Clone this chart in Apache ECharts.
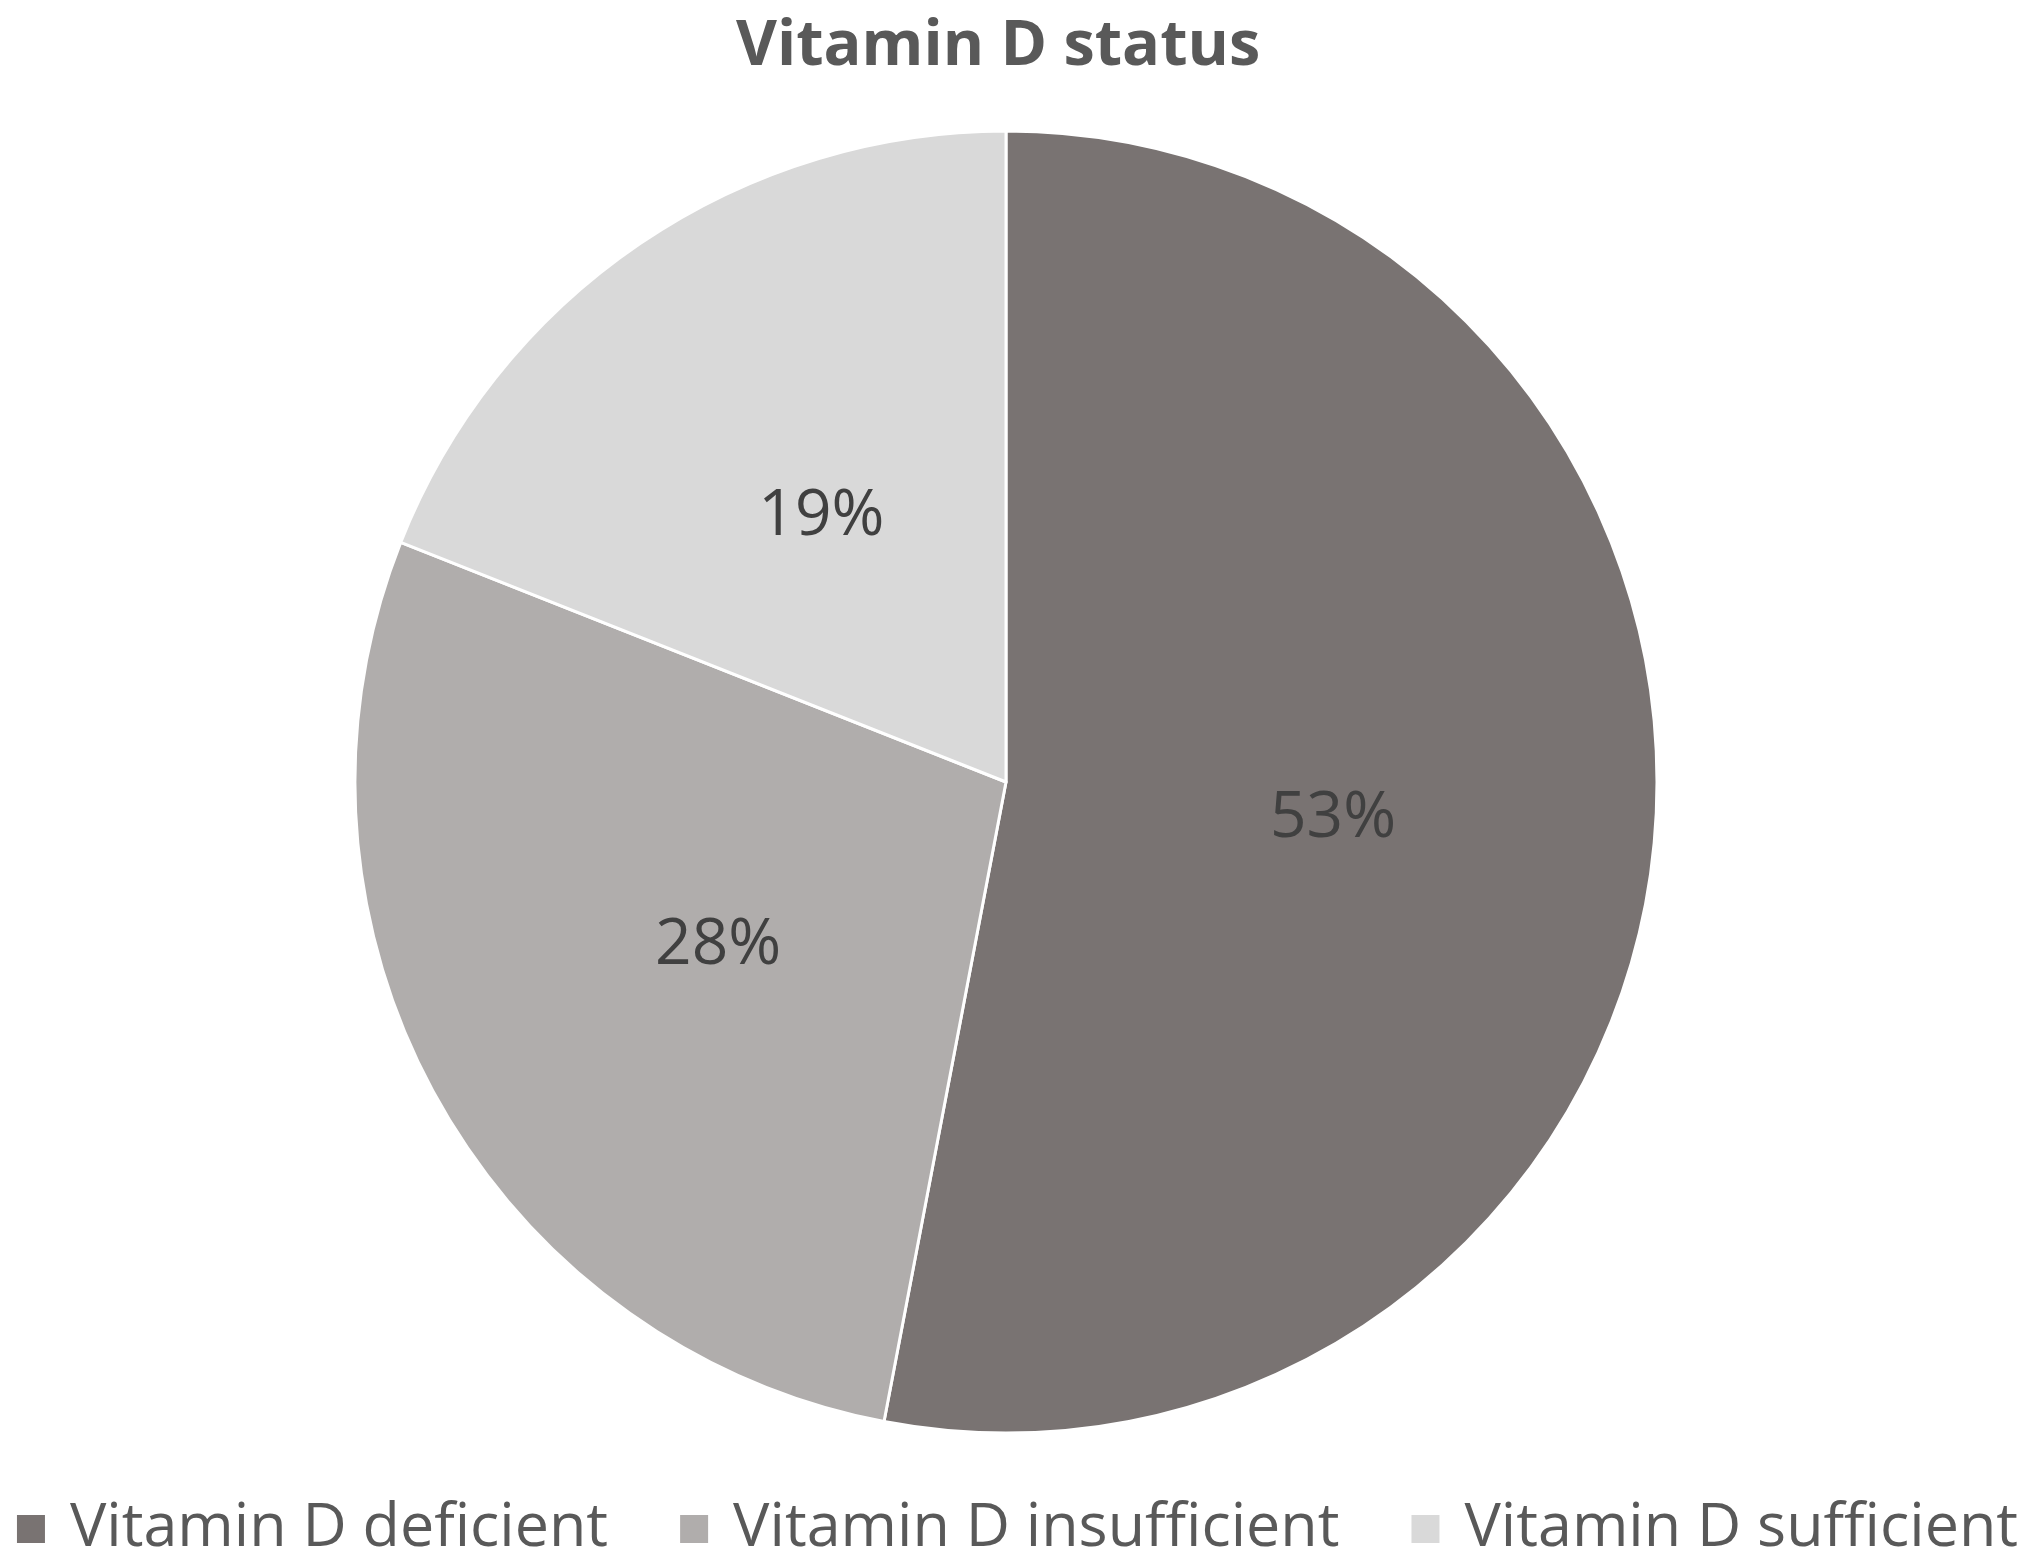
<!DOCTYPE html>
<html>
<head>
<meta charset="utf-8">
<script src="https://cdn.jsdelivr.net/npm/echarts@6/dist/echarts.min.js"></script>
<style>
html,body{margin:0;padding:0;background:#fff;}
#chart{width:2033px;height:1562px;}
</style>
</head>
<body>
<div id="chart"></div>
<script>
const categories = ["Vitamin D deficient", "Vitamin D insufficient", "Vitamin D sufficient"];
const values = [53, 28, 19];
const colors = ["#797372", "#b0adac", "#d9d9d9"];
const titleText = "Vitamin D status";

const chart = echarts.init(document.getElementById('chart'));
chart.setOption({
  backgroundColor: '#ffffff',
  animation: false,
  title: {
    text: titleText,
    left: 736,
    top: 10,
    padding: 0,
    textStyle: {fontFamily: 'Open Sans', fontWeight: 'bold', fontSize: 63, color: '#595959', lineHeight: 74}
  },
  legend: {
    data: categories,
    left: 'center',
    top: 1498,
    icon: 'rect',
    itemWidth: 30,
    itemHeight: 30,
    itemGap: 70,
    padding: 0,
    textStyle: {fontFamily: 'Open Sans', fontSize: 61, color: '#595959', lineHeight: 62, padding: [0, 0, 0, 19]}
  },
  series: [{
    type: 'pie',
    center: [1006, 782],
    radius: 651,
    startAngle: 90,
    clockwise: true,
    data: categories.map((c, i) => ({name: c, value: values[i], itemStyle: {color: colors[i]}})),
    itemStyle: {borderColor: '#ffffff', borderWidth: 3},
    label: {
      show: true,
      position: 'inside',
      formatter: p => p.value + '%',
      fontFamily: 'Open Sans',
      fontSize: 64,
      color: '#404040',
      offset: [0, 6]
    },
    labelLine: {show: false},
    emphasis: {disabled: true}
  }]
});
</script>
</body>
</html>
